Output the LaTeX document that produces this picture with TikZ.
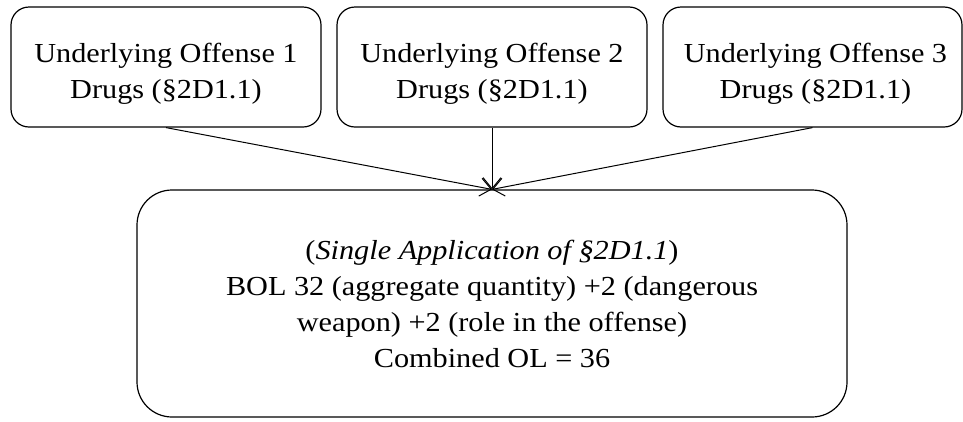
\documentclass[tikz,border=0pt]{standalone}
\usepackage{fontspec}
\setmainfont[FakeStretch=1.1]{Liberation Serif}
\usetikzlibrary{positioning,arrows.meta}

\begin{document}
\begin{tikzpicture}[
    x=1pt, y=1pt,
    offense/.style={
        draw, line width=1.2pt, rounded corners=18pt,
        minimum width=310pt, minimum height=120pt
    },
    offtext/.style={align=center, font=\fontsize{27.5}{36}\selectfont},
    combined/.style={
        draw, line width=1.2pt, rounded corners=35pt,
        minimum width=710pt, minimum height=227pt,
        align=center, font=\fontsize{27.5}{36}\selectfont
    },
    feed/.style={line width=1pt, -{Straight Barb[length=11pt,width=18pt]}}
  ]
  \useasboundingbox (0,0) rectangle (963,-421);
  % the three offenses
  \node [offense] (off1) at (166,-67) {};
  \node [offense] (off2) at (492,-67) {};
  \node [offense, minimum width=299pt] (off3) at (812.5,-67) {};
  \node [offtext] (off1txt) at ([yshift=-7]off1.center) {Underlying Offense 1\\Drugs (§2D1.1)};
  \node [offtext] (off2txt) at ([yshift=-7]off2.center) {Underlying Offense 2\\Drugs (§2D1.1)};
  \node [offtext] (off3txt) at ([xshift=3,yshift=-7]off3.center) {Underlying Offense 3\\Drugs (§2D1.1)};
  % grouped result
  \node [combined] (group) at (492,-303.5) {(\textit{Single Application of §2D1.1})\\
      BOL 32 (aggregate quantity) +2 (dangerous\\
      weapon) +2 (role in the offense)\\
      Combined OL = 36};
  \foreach \n in {off1,off2,off3}
    \draw [feed] (\n.south) -- (group.north);
\end{tikzpicture}
\end{document}
